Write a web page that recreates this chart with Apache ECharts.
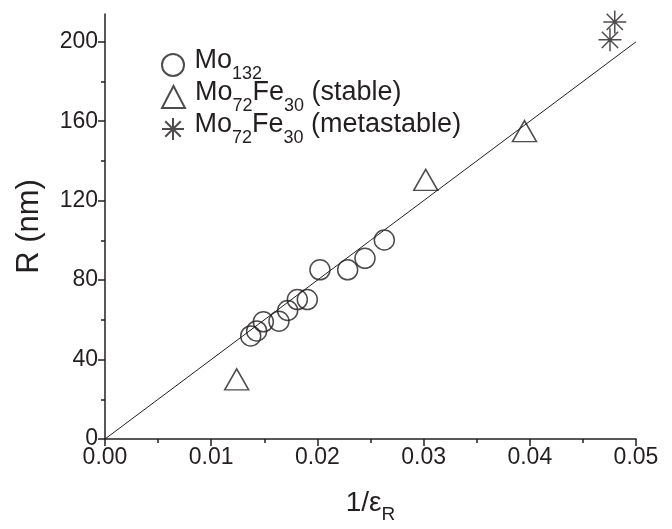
<!DOCTYPE html>
<html>
<head>
<meta charset="utf-8">
<script type="text/javascript" src="https://cdn.jsdelivr.net/npm/echarts@6/dist/echarts.min.js"></script>
</head>
<body style="margin:0;background:#fff">
<div id="main" style="width:672px;height:529px;"></div>
<script type="text/javascript">
// Mo132 points [1/eps_R, R]
var mo132 = [
  [0.01372, 51.9], [0.01428, 54.4], [0.01491, 59.0], [0.01638, 59.3],
  [0.01720, 64.7], [0.01811, 70.2], [0.01905, 70.2], [0.02024, 85.2],
  [0.02285, 85.2], [0.02448, 91.0], [0.02630, 100.2]
];
// Mo72Fe30 stable
var stable = [[0.0124, 30.0], [0.0302, 130.5], [0.0395, 155.0]];
// Mo72Fe30 metastable
var metastable = [[0.04755, 201.0], [0.0480, 210.0]];
// fitted line
var fitLine = [[0, 0], [0.05, 200]];

var yMajor = [0, 40, 80, 120, 160, 200];
var yMinor = [20, 60, 100, 140, 180];

var ink = '#231f20';
var font = 'Liberation Sans, Arial, sans-serif';
var star = 'path://M0 -10 L0 10 M-10 0 L10 0 M-7.07 -7.07 L7.07 7.07 M-7.07 7.07 L7.07 -7.07';

var rich = {
  g: { width: 5 },
  a: { fontSize: 27, fontFamily: font, color: ink, verticalAlign: 'bottom', padding: [0, 0, 9, 0] },
  s: { fontSize: 18, fontFamily: font, color: ink, verticalAlign: 'bottom' }
};

var myChart = echarts.init(document.getElementById('main'));

function oneLegend(name, top) {
  return {
    data: [name],
    left: 156,
    top: top,
    itemWidth: 23,
    itemHeight: 22,
    itemGap: 0,
    selectedMode: false,
    formatter: function (n) {
      if (n === 'Mo132') return '{g|}{a|Mo}{s|132}';
      if (n === 'stable') return '{g|}{a|Mo}{s|72}{a|Fe}{s|30}{a| (stable)}';
      return '{g|}{a|Mo}{s|72}{a|Fe}{s|30}{a| (metastable)}';
    },
    textStyle: { rich: rich }
  };
}

var option = {
  animation: false,
  backgroundColor: '#fff',
  grid: { left: 105, right: 36, top: 14, bottom: 87, containLabel: false },
  legend: [oneLegend('Mo132', 42), oneLegend('stable', 74), oneLegend('metastable', 106)],
  xAxis: {
    type: 'value',
    min: 0, max: 0.05, interval: 0.01,
    name: '{a|1/ε}{s|R}',
    nameLocation: 'middle',
    nameGap: 50,
    nameTextStyle: { rich: {
      a: { fontSize: 28, fontFamily: font, color: ink, verticalAlign: 'bottom', padding: [0, 0, 7, 0] },
      s: { fontSize: 19, fontFamily: font, color: ink, verticalAlign: 'bottom' }
    } },
    axisLine: { lineStyle: { color: ink, width: 1.5 } },
    axisTick: { length: 7, lineStyle: { color: ink, width: 1.5 } },
    minorTick: { show: true, splitNumber: 2, length: 4, lineStyle: { color: ink, width: 1.5 } },
    axisLabel: { color: ink, fontSize: 23, fontFamily: font, margin: 7,
      formatter: function (v) { return v.toFixed(2); } },
    splitLine: { show: false }
  },
  yAxis: [{
    type: 'value',
    min: 0, max: 214,
    name: 'R (nm)',
    nameLocation: 'middle',
    nameGap: 60,
    nameTextStyle: { fontSize: 31, fontFamily: font, color: ink },
    axisLine: { lineStyle: { color: ink, width: 1.5 } },
    axisTick: { length: 7, customValues: yMajor, lineStyle: { color: ink, width: 1.5 } },
    axisLabel: { color: ink, fontSize: 23, fontFamily: font, margin: 7, customValues: yMajor },
    splitLine: { show: false }
  }, {
    type: 'value',
    min: 0, max: 214,
    position: 'left',
    axisLine: { show: false },
    axisTick: { show: true, length: 4, customValues: yMinor, lineStyle: { color: ink, width: 1.5 } },
    axisLabel: { show: false },
    splitLine: { show: false }
  }],
  series: [
    {
      name: 'fit', type: 'line', data: fitLine, showSymbol: false, symbol: 'none',
      lineStyle: { color: ink, width: 1 }, silent: true, z: 1
    },
    {
      name: 'Mo132', type: 'scatter', data: mo132, symbol: 'circle', symbolSize: 20,
      itemStyle: { color: 'rgba(0,0,0,0)', borderColor: ink, borderWidth: 1.5 }, z: 3
    },
    {
      name: 'stable', type: 'scatter', data: stable, symbol: 'triangle', symbolSize: [24, 21],
      itemStyle: { color: 'rgba(0,0,0,0)', borderColor: ink, borderWidth: 1.5 }, z: 3
    },
    {
      name: 'metastable', type: 'scatter', data: metastable, symbol: star, symbolSize: 23,
      itemStyle: { color: 'rgba(0,0,0,0)', borderColor: ink, borderWidth: 1.5 }, z: 3
    }
  ]
};
myChart.setOption(option);
</script>
</body>
</html>
